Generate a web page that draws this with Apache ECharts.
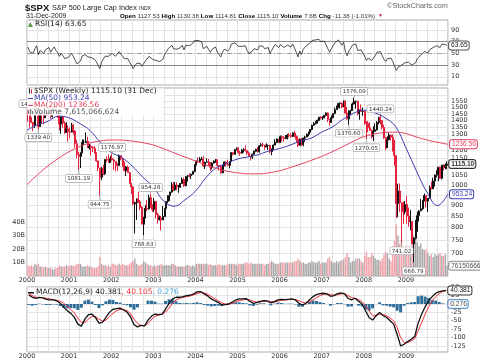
<!DOCTYPE html>
<html><head><meta charset="utf-8">
<script src="https://cdn.jsdelivr.net/npm/echarts@6/dist/echarts.min.js"></script>
<style>html,body{margin:0;padding:0;background:#fff}#c{width:480px;height:363px}</style>
</head><body><div id="c"></div>
<script>
// ---------------- DATA ----------------
const years = [2000,2001,2002,2003,2004,2005,2006,2007,2008,2009];
const openFirst = 1469.25;
// half-month bars: close / low / high
const priceClose = [
 1465,1394,1387,1366,1464,1499,1357,1452,1450,1421,1464,1455,1509,1431,1484,1518,1470,1437,1374,1429,1382,1315,1340,1320,
 1318,1366,1326,1240,1173,1160,1184,1249,1249,1256,1214,1224,1215,1211,1181,1134,1093,1041,1089,1060,1142,1139,1124,1148,
 1139,1130,1116,1107,1166,1147,1103,1077,1098,1067,1009,990,906,912,930,916,889,815,841,886,882,936,889,880,
 918,856,835,841,833,848,885,917,946,964,1001,975,1000,990,990,1008,1029,996,1046,1051,1050,1058,1074,1112,
 1132,1131,1145,1145,1104,1126,1128,1107,1095,1121,1133,1141,1107,1102,1065,1104,1128,1115,1108,1130,1183,1174,1203,1212,
 1185,1181,1200,1204,1197,1181,1162,1157,1174,1192,1206,1191,1227,1234,1233,1220,1228,1229,1190,1207,1232,1249,1270,1248,
 1287,1280,1275,1281,1297,1295,1289,1311,1291,1270,1230,1270,1236,1277,1285,1304,1319,1336,1366,1378,1396,1401,1425,1418,
 1430,1438,1456,1407,1387,1421,1453,1482,1501,1531,1533,1503,1550,1455,1411,1474,1476,1527,1548,1549,1452,1481,1468,1468,
 1381,1379,1349,1331,1288,1323,1334,1386,1424,1400,1350,1280,1214,1267,1298,1283,1193,1166,908,969,911,896,869,903,
 850,826,827,735,757,798,852,873,883,919,946,919,933,987,980,1021,1053,1057,1097,1036,1110,1096,1108,1115.10
];
const priceLow = [
 1392,1350,1380,1325,1346,1450,1339.40,1356,1380,1373,1420,1434,1440,1413,1422,1480,1465,1419,1329,1306,1349,1305,1315,1254,
 1275,1316,1301,1215,1150,1081.19,1092,1180,1232,1248,1214,1203,1166,1188,1179,1128,1075,944.75,1026,1054,1054,1127,1124,1126,
 1136,1082,1074,1076,1106,1138,1098,1075,1048,1066,1005,953,900,776,833,910,877,815,768.63,840,872,880,889,869,
 869,840,817,830,789,840,847,885,910,920,960,969,970,973,960,984,1005,990,994,1018,1041,1031,1055,1068,
 1107,1122,1122,1138,1100,1087,1125,1107,1076,1085,1119,1123,1102,1078,1061,1064,1105,1101,1103,1090,1131,1167,1173,1197,
 1178,1164,1180,1184,1190,1169,1160,1136,1146,1170,1187,1185,1183,1221,1219,1201,1218,1201,1180,1168,1200,1230,1244,1246,
 1245,1254,1253,1270,1268,1282,1280,1285,1285,1245,1219,1229,1224,1225,1253,1289,1290,1316,1331,1362,1372,1378,1394,1408,
 1404,1416,1431,1389,1364,1384,1416,1450,1488,1496,1490,1493,1503,1455,1407,1370.60,1439,1476,1523,1490,1439,1406,1465,1435,
 1370,1270.05,1317,1325,1273,1257,1324,1329,1373,1373,1335,1272,1200,1214,1262,1261,1193,1106,840,845,869,741.02,816,857,
 817,804,789,735,666.79,753,783,826,879,879,927,889,869,932,977,979,992,1041,1020,1033,1029,1079,1085,1086
];
const priceHigh = [
 1478,1465,1424,1390,1464,1553,1527,1482,1481,1470,1480,1482,1517,1516,1484,1525,1530,1480,1454,1434,1433,1394,1389,1365,
 1350,1383,1376,1331,1267,1187,1185,1269,1268,1316,1286,1240,1236,1225,1226,1186,1135,1093,1099,1111,1143,1161,1173,1163,
 1176.97,1146,1131,1120,1173,1166,1147,1130,1104,1107,1070,1010,994,917,931,965,925,896,847,901,925,951,954.28,904,
 935,919,865,852,851,896,885,919,947,965,1015,1015,1016,1015,1000,1011,1040,1040,1048,1053,1063,1060,1074,1112,
 1138,1155,1158,1157,1163,1130,1150,1146,1127,1127,1137,1146,1141,1110,1108,1110,1130,1130,1141,1132,1188,1188,1206,1217,
 1218,1195,1208,1212,1229,1199,1191,1162,1178,1198,1208,1219,1229,1245,1246,1233,1243,1236,1233,1208,1235,1270,1276,1272,
 1295,1294,1290,1298,1306,1311,1310,1318,1327,1295,1290,1275,1280,1281,1293,1307,1320,1340,1370,1390,1394,1408,1427,1432,
 1431,1442,1461,1462,1410,1439,1453,1498,1513,1532,1541,1540,1555,1556,1503,1474,1481,1538,1576.09,1553,1552,1482,1524,1498,
 1472,1396,1396,1388,1335,1359,1380,1397,1425,1440.24,1404,1370,1285,1290,1313,1300,1303,1265,1167,1007,1008,912,918,919,
 944,889,877,827,760,833,870,877,930,924,956,947,933,997,1018,1039,1057,1080,1097,1101,1110,1114,1119,1130.38
];
// volume, billions of shares (half-month samples)
const volumeB = [
 8,7,8,7,9,8,9,7,7,6,7,6,6,6,5,5,6,6,8,7,7,7,8,7,
 8,8,7,8,9,9,9,7,7,7,8,7,7,6,6,6,7,14,9,8,8,7,8,7,
 9,9,8,8,9,8,9,8,8,8,9,10,11,13,9,8,8,9,11,10,9,8,8,7,
 8,7,8,8,9,8,8,8,8,8,9,9,8,7,7,7,7,7,8,8,8,7,8,7,
 9,9,9,9,9,9,9,8,9,8,8,8,8,9,8,8,8,8,9,9,9,9,9,8,
 9,9,9,9,10,10,9,10,9,9,9,9,9,9,9,8,9,9,10,11,10,9,9,9,
 10,10,10,10,10,10,10,10,11,11,13,11,10,10,9,9,10,10,11,10,10,10,11,9,
 10,10,10,13,14,11,10,10,11,10,11,12,12,14,17,14,10,11,11,13,13,13,11,10,
 15,18,14,14,17,15,13,12,12,11,13,16,18,17,13,11,22,26,38,30,24,27,20,16,
 22,20,20,26,30,28,25,22,24,20,19,20,17,15,16,14,16,15,16,17,15,15,16,7.615
];
const lastVolume = 7615066624;
// RSI(14), half-month samples
const rsi14 = [
 61,53,52,50,58,63,48,55,54,50,56,55,60,52,57,61,55,51,45,50,46,41,44,43,
 45,50,47,38,32,30,37,46,47,48,44,44,43,43,40,36,33,24,35,37,45,46,45,47,
 50,47,45,44,53,50,45,41,44,41,35,30,24,22,33,35,33,28,30,37,40,45,44,40,
 43,38,35,36,35,40,48,53,58,60,64,58,61,57,56,60,64,56,64,65,63,64,67,72,
 74,72,70,70,58,60,62,57,52,57,59,61,52,50,44,52,57,55,54,58,66,64,68,70,
 62,59,62,62,63,55,50,49,54,58,60,56,63,64,62,58,60,60,50,55,61,65,67,60,
 65,62,60,61,64,63,61,66,59,52,44,54,48,57,60,64,66,68,72,72,73,72,74,70,
 71,71,73,58,52,58,63,68,71,73,72,64,69,53,46,54,56,64,67,66,55,57,56,55,
 45,38,42,40,38,42,46,52,54,53,46,40,36,41,44,42,36,33,21,26,25,30,32,34,
 37,35,36,30,27,34,41,44,47,50,53,51,51,56,56,60,62,63,66,60,66,64,65,63.65
];
// MACD(12,26,9), monthly samples
const macdLine = [
 27,20,17,20,18,14,12,12,9,2,-10,-20,
 -28,-40,-60,-66,-45,-32,-30,-40,-57,-55,-40,-25,
 -16,-14,-12,-18,-24,-38,-62,-68,-64,-65,-48,-36,
 -30,-32,-30,-15,2,15,20,20,22,25,26,30,
 36,37,30,24,15,10,5,-3,-2,0,6,12,
 15,15,16,8,2,4,8,10,9,3,7,12,
 14,13,14,15,12,2,-3,2,12,22,28,31,
 32,30,23,25,31,33,30,17,12,17,8,0,
 -20,-40,-48,-35,-25,-35,-40,-50,-60,-90,-125,-120,
 -112,-105,-97,-57,-30,-8,10,22,32,37,39,40.381
];
const macdSignal = [
 30,25,20,19,19,17,15,13,11,8,2,-7,
 -16,-27,-42,-55,-55,-45,-37,-37,-45,-51,-48,-38,
 -28,-20,-16,-16,-20,-28,-45,-58,-64,-65,-58,-46,
 -37,-33,-31,-24,-12,2,12,17,20,22,24,27,
 31,34,33,29,22,16,10,3,0,-1,2,7,
 10,12,14,12,8,6,6,8,9,7,6,8,
 11,12,13,14,13,10,5,3,6,12,19,25,
 29,30,28,26,28,30,31,25,19,17,13,7,
 -4,-20,-35,-35,-30,-31,-35,-42,-50,-70,-100,-115,
 -115,-110,-103,-80,-55,-30,-8,10,22,31,37,40.105
];
// moving averages, quarterly samples 2000.0 .. 2010.0
const ma50 = [1331,1369,1395,1433,1420,1379,1329,1246,1186,1154,1104,1042,989,919,895,925,968,1039,1095,1120,
 1145,1158,1172,1195,1210,1232,1258,1277,1318,1353,1408,1453,1478,1459,1421,1359,1215,1076,963,898,953.24];
const ma200 = [1002,1055,1105,1150,1190,1222,1246,1259,1265,1264,1258,1247,1232,1208,1182,1157,1134,1110,1090,1075,
 1066,1060,1060,1066,1077,1095,1115,1137,1161,1190,1222,1255,1287,1305,1315,1318,1308,1285,1265,1250,1236.56];
// annotated extremes: [bar index, side, text]
const annotations = [[0,'high','1478'],[6,'low','1339.40'],[29,'low','1081.19'],[48,'high','1176.97'],[41,'low','944.75'],
 [70,'high','954.28'],[66,'low','768.63'],[186,'high','1576.09'],[183,'low','1370.60'],[201,'high','1440.24'],
 [193,'low','1270.05'],[213,'low','741.02'],[220,'low','666.79']];
const priceLabels = [700,750,800,850,900,950,1000,1050,1100,1150,1200,1250,1300,1350,1400,1450,1500,1550,1600];
const priceGrid = [650].concat(priceLabels);
const volumeLabels = [10,20,30,40];
const rsiLabels = [10,30,50,70,90];
const macdLabels = [-125,-100,-75,-50,-25,0,25,50];
const headerPieces = [['Open',1],['1127.53',0],['High',1],['1130.38',0],['Low',1],['1114.81',0],
 ['Close',1],['1115.10',0],['Volume',1],['7.6B',0],['Chg',1],['-11.38 (-1.01%)',0]];

// ---------------- BUILD ----------------
const halfT = []; years.forEach(y => { for (let h = 0; h < 24; h++) halfT.push(y + (h + 0.5) / 24); });
const monthT = []; years.forEach(y => { for (let m = 0; m < 12; m++) monthT.push(y + (m + 0.5) / 12); });
const quarterT = []; for (let k = 0; k < ma50.length; k++) quarterT.push(2000 + k / 4);
const N = priceClose.length, L = N - 1;
const opens = priceClose.map((c, i) => i === 0 ? openFirst : priceClose[i - 1]);
const candle = priceClose.map((c, i) => [halfT[i], opens[i], c, Math.min(priceLow[i], opens[i], c), Math.max(priceHigh[i], opens[i], c)]);
const hist = macdLine.map((v, i) => +(v - macdSignal[i]).toFixed(3));

const FONT = 'DejaVu Sans', AF = 'Liberation Sans';
const UP = '#111111', DOWN = '#e3233d', BLUE = '#3b3bb0', RED = '#e6425f', HIST = '#2e6d99';

// header line layout from text metrics (start x=120, end x=376)
const mctx = document.createElement('canvas').getContext('2d');
const tw = (t, b, s) => { mctx.font = (b ? 'bold ' : '') + s + 'px "' + AF + '"'; return mctx.measureText(t).width; };
const gapEm = 0.3;
let totalEm = 0; headerPieces.forEach(([t, b], k) => { totalEm += tw(t, b, 10) / 10 + (k < headerPieces.length - 1 ? gapEm : 0); });
const hSize = Math.min(7, 256 / totalEm);
const headerEls = []; let hx = 120;
headerPieces.forEach(([t, b]) => {
  headerEls.push({type: 'text', x: hx, y: 16, z: 50, style: {text: t, font: (b ? 'bold ' : '') + hSize + 'px ' + AF, fill: b ? '#000' : '#333', verticalAlign: 'middle'}});
  hx += tw(t, b, hSize) + gapEm * hSize;
});

const gridC = {left: 27, right: 32, show: true, borderColor: '#a9a9a9', borderWidth: 1, backgroundColor: '#fff', outerBoundsMode: 'none'};
const xAx = (gi, showLab) => ({type: 'value', gridIndex: gi, min: 2000, max: 2010, interval: 0.25,
  axisLine: {show: false}, axisTick: {show: false},
  axisLabel: {show: showLab, margin: 1, fontSize: 6.5, fontFamily: FONT, color: '#333',
    formatter: v => (Math.abs(v - Math.round(v)) < 1e-6 && v < 2009.99) ? String(Math.round(v)) : ''},
  splitLine: {show: true, lineStyle: {color: '#e3e3e3', width: 1}}});
const yLab = {fontSize: 6.5, fontFamily: FONT, color: '#333', margin: 3, formatter: v => String(v)};
const boxLab = (color, bold) => ({show: true, fontSize: 6.6, fontFamily: AF, fontWeight: bold ? 'bold' : 'normal', color: bold ? '#000' : color,
  backgroundColor: '#fff', borderColor: color, borderWidth: 1, borderRadius: 2, padding: [1, 1, 0, 2]});
const annStyle = {fontSize: 5.6, fontFamily: FONT, color: '#333', backgroundColor: '#fff', borderColor: '#a8a8a8', borderWidth: 0.7, borderRadius: 1, padding: [1, 1.5, 0, 1.5]};

const option = {
  animation: false,
  textStyle: {fontFamily: FONT},
  grid: [Object.assign({top: 20, height: 65}, gridC), Object.assign({top: 88, height: 188}, gridC), Object.assign({top: 287, height: 65}, gridC)],
  xAxis: [xAx(0, false), xAx(1, true), xAx(2, true)],
  yAxis: [
    {type: 'value', gridIndex: 0, position: 'right', min: -4, max: 107, axisLine: {show: false},
     axisTick: {show: false, customValues: rsiLabels}, axisLabel: Object.assign({customValues: rsiLabels}, yLab),
     splitLine: {show: true, lineStyle: {color: '#e3e3e3'}}},
    {type: 'log', gridIndex: 1, position: 'right', min: 621.6, max: 1659.6, axisLine: {show: false},
     axisTick: {show: false, customValues: priceGrid}, axisLabel: Object.assign({customValues: priceLabels}, yLab),
     splitLine: {show: true, lineStyle: {color: '#e3e3e3'}}},
    {type: 'value', gridIndex: 1, position: 'left', min: 0, max: 139, axisLine: {show: false},
     axisTick: {show: false, customValues: volumeLabels}, axisLabel: Object.assign({customValues: volumeLabels}, yLab, {margin: 2, formatter: v => v + 'B'}),
     splitLine: {show: false}},
    {type: 'value', gridIndex: 2, position: 'right', min: -143, max: 50.6, axisLine: {show: false},
     axisTick: {show: false, customValues: macdLabels}, axisLabel: Object.assign({customValues: macdLabels}, yLab),
     splitLine: {show: true, lineStyle: {color: '#e3e3e3'}}}
  ],
  series: [
    // RSI
    {type: 'line', xAxisIndex: 0, yAxisIndex: 0, data: rsi14.map((v, i) => [halfT[i], v]), symbol: 'none',
     lineStyle: {color: '#222', width: 0.8}, z: 5,
     endLabel: Object.assign(boxLab('#555', false), {color: '#222', distance: 2, formatter: () => rsi14[L].toFixed(2)}),
     markLine: {silent: true, symbol: 'none', label: {show: false}, data: [
       {yAxis: 70, lineStyle: {color: '#8a8a8a', width: 1, type: 'solid'}},
       {yAxis: 30, lineStyle: {color: '#8a8a8a', width: 1, type: 'solid'}},
       {yAxis: 50, lineStyle: {color: '#a0a0a0', width: 1, type: [5, 2, 1, 2]}}]}},
    // Volume
    {type: 'bar', xAxisIndex: 1, yAxisIndex: 2, data: volumeB.map((v, i) => [halfT[i], v]), barWidth: 1.4, z: 1,
     itemStyle: {color: p => priceClose[p.dataIndex] >= opens[p.dataIndex] ? '#a9a9a9' : '#f2a2ab'}},
    // Price bars
    {type: 'candlestick', xAxisIndex: 1, yAxisIndex: 1, data: candle, encode: {x: 0, y: [1, 2, 3, 4]}, barWidth: 1.5, z: 3,
     itemStyle: {color: UP, color0: DOWN, borderColor: UP, borderColor0: DOWN, borderWidth: 1},
     markPoint: {silent: true, animation: false, data: annotations.map(([i, side, text]) => ({
       coord: [halfT[i], side === 'high' ? candle[i][4] : candle[i][3]],
       symbol: 'rect', symbolSize: [0.7, side === 'high' ? 3 : 5], symbolOffset: [0, side === 'high' ? -1.5 : 2.5],
       itemStyle: {color: '#999'},
       label: Object.assign({show: true, formatter: text, position: side === 'high' ? 'top' : 'bottom', distance: 0}, annStyle)}))}},
    // MAs
    {type: 'line', xAxisIndex: 1, yAxisIndex: 1, data: ma50.map((v, i) => [quarterT[i], v]), smooth: 0.4, symbol: 'none', z: 4,
     lineStyle: {color: BLUE, width: 1}, endLabel: Object.assign(boxLab(BLUE, false), {distance: 2, formatter: () => ma50[ma50.length - 1].toFixed(2)})},
    {type: 'line', xAxisIndex: 1, yAxisIndex: 1, data: ma200.map((v, i) => [quarterT[i], v]), smooth: 0.4, symbol: 'none', z: 4,
     lineStyle: {color: RED, width: 1}, endLabel: Object.assign(boxLab(RED, false), {distance: 2, formatter: () => ma200[ma200.length - 1].toFixed(2)})},
    // last close box
    {type: 'scatter', xAxisIndex: 1, yAxisIndex: 1, data: [[halfT[L], priceClose[L]]], symbolSize: 0.1, silent: true, z: 10,
     itemStyle: {color: 'rgba(0,0,0,0)'}, label: Object.assign(boxLab('#000', true), {position: 'right', distance: 2, formatter: () => priceClose[L].toFixed(2)})},
    // last volume box
    {type: 'scatter', xAxisIndex: 1, yAxisIndex: 2, data: [[halfT[L], volumeB[L]]], symbolSize: 0.1, silent: true, z: 10,
     itemStyle: {color: 'rgba(0,0,0,0)'}, label: Object.assign(boxLab('#777', false), {color: '#222', position: 'right', distance: 2, formatter: () => String(lastVolume)})},
    // MACD
    {type: 'bar', xAxisIndex: 2, yAxisIndex: 3, data: hist.map((v, i) => [monthT[i], v]), barWidth: 3, itemStyle: {color: HIST}, z: 2},
    {type: 'line', xAxisIndex: 2, yAxisIndex: 3, data: macdSignal.map((v, i) => [monthT[i], v]), symbol: 'none', z: 4,
     lineStyle: {color: '#f0303a', width: 1}},
    {type: 'line', xAxisIndex: 2, yAxisIndex: 3, data: macdLine.map((v, i) => [monthT[i], v]), symbol: 'none', z: 5,
     lineStyle: {color: '#111', width: 1.3}, endLabel: Object.assign(boxLab('#333', false), {color: '#222', distance: 2, formatter: () => macdLine[macdLine.length - 1].toFixed(3)})},
    {type: 'scatter', xAxisIndex: 2, yAxisIndex: 3, data: [[monthT[monthT.length - 1], hist[hist.length - 1]]], symbolSize: 0.1, silent: true, z: 10,
     itemStyle: {color: 'rgba(0,0,0,0)'}, label: Object.assign(boxLab('#3a78c0', false), {color: '#222', position: 'right', distance: 2, formatter: () => hist[hist.length - 1].toFixed(3)})}
  ],
  graphic: [].concat(
    [
      {type: 'text', x: 25, y: 8, z: 50, style: {text: '$SPX', font: 'bold 9.5px ' + AF, fill: '#111', verticalAlign: 'middle'}},
      {type: 'text', x: 52, y: 8, z: 50, style: {text: 'S&P 500 Large Cap Index', font: '7.3px ' + AF, fill: '#222', verticalAlign: 'middle'}},
      {type: 'text', x: 139, y: 8.5, z: 50, style: {text: 'INDX', font: '5px ' + AF, fill: '#222', verticalAlign: 'middle'}},
      {type: 'text', x: 387, y: 5.5, z: 50, style: {text: '©StockCharts.com', font: '7.3px ' + AF, fill: '#666', verticalAlign: 'middle'}},
      {type: 'text', x: 26, y: 16, z: 50, style: {text: '31-Dec-2009', font: '7px ' + AF, fill: '#222', verticalAlign: 'middle'}},
      {type: 'text', x: hx + 1, y: 16, z: 50, style: {text: '▼', font: '5px ' + AF, fill: '#c0102a', verticalAlign: 'middle'}}
    ],
    headerEls,
    [
      // RSI legend
      {type: 'polygon', z: 50, shape: {points: [[28, 27], [30, 22], [32, 25], [33, 27]]}, style: {fill: '#5a9a4a'}},
      {type: 'text', x: 35, y: 24.5, z: 50, style: {text: 'RSI(14) ' + rsi14[L].toFixed(2), font: '7.5px ' + FONT, fill: '#222', verticalAlign: 'middle'}},
      // main legend
      {type: 'rect', z: 40, shape: {x: 27.5, y: 88.5, width: 136, height: 27}, style: {fill: 'rgba(255,255,255,0.92)'}},
      {type: 'rect', z: 50, shape: {x: 29, y: 88.5, width: 1, height: 5}, style: {fill: '#222'}},
      {type: 'rect', z: 50, shape: {x: 31, y: 89.5, width: 1, height: 4}, style: {fill: DOWN}},
      {type: 'text', x: 34, y: 91.5, z: 50, style: {text: '$SPX (Weekly) ' + priceClose[L].toFixed(2) + ' (31 Dec)', font: '7.5px ' + FONT, fill: '#222', verticalAlign: 'middle'}},
      {type: 'rect', z: 50, shape: {x: 28, y: 98, width: 5, height: 1}, style: {fill: BLUE}},
      {type: 'text', x: 34, y: 98.5, z: 50, style: {text: 'MA(50) ' + ma50[ma50.length - 1].toFixed(2), font: '7.5px ' + FONT, fill: BLUE, verticalAlign: 'middle'}},
      {type: 'rect', z: 50, shape: {x: 28, y: 105, width: 5, height: 1}, style: {fill: RED}},
      {type: 'text', x: 34, y: 105.5, z: 50, style: {text: 'MA(200) ' + ma200[ma200.length - 1].toFixed(2), font: '7.5px ' + FONT, fill: RED, verticalAlign: 'middle'}},
      {type: 'rect', z: 50, shape: {x: 28, y: 110, width: 1.2, height: 4}, style: {fill: '#777'}},
      {type: 'rect', z: 50, shape: {x: 30, y: 109, width: 1.2, height: 5}, style: {fill: '#777'}},
      {type: 'rect', z: 50, shape: {x: 32, y: 111, width: 1.2, height: 3}, style: {fill: '#777'}},
      {type: 'text', x: 34, y: 112.5, z: 50, style: {text: 'Volume ' + lastVolume.toLocaleString('en-US'), font: '7.5px ' + FONT, fill: '#555', verticalAlign: 'middle'}},
      // MACD legend
      {type: 'rect', z: 50, shape: {x: 28, y: 292, width: 6, height: 1.5}, style: {fill: '#111'}},
      {type: 'text', x: 36, y: 292.5, z: 50, style: {text: '{a|MACD(12,26,9) ' + macdLine[macdLine.length - 1].toFixed(3) + '}{b|, ' + macdSignal[macdSignal.length - 1].toFixed(3) + '}{c|, ' + hist[hist.length - 1].toFixed(3) + '}',
        verticalAlign: 'middle', font: '7.5px ' + FONT,
        rich: {a: {fill: '#222', color: '#222', font: '7.5px ' + FONT}, b: {fill: '#f0303a', color: '#f0303a', font: '7.5px ' + FONT}, c: {fill: '#4aa6dc', color: '#4aa6dc', font: '7.5px ' + FONT}}}}
    ]
  )
};
const chart = echarts.init(document.getElementById('c'), null, {renderer: 'canvas', width: 480, height: 363, devicePixelRatio: 1});
chart.setOption(option);
</script></body></html>
